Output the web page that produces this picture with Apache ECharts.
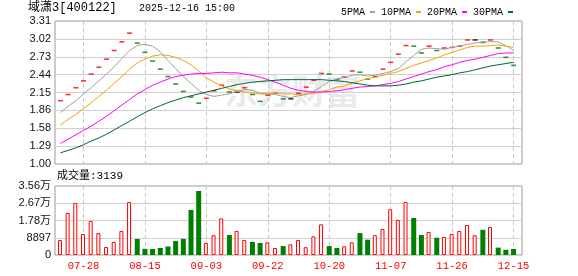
<!DOCTYPE html>
<html><head><meta charset="utf-8">
<script src="https://cdn.jsdelivr.net/npm/echarts@6/dist/echarts.min.js"></script>
<style>html,body{margin:0;padding:0;background:#fff}#c{width:578px;height:276px}</style>
</head><body><div id="c"></div>
<script>
// ---- data ----
const stockName = '域潇3[400122]';
const timeStamp = '2025-12-16 15:00';
const dates = ['07-21','07-23','07-25','07-28','07-30','08-01','08-04','08-06','08-08','08-11',
  '08-13','08-15','08-18','08-20','08-22','08-25','08-27','08-29','09-01','09-03',
  '09-05','09-08','09-10','09-12','09-15','09-17','09-19','09-22','09-24','09-26',
  '09-29','10-10','10-13','10-15','10-17','10-20','10-22','10-24','10-27','10-29',
  '10-31','11-03','11-05','11-07','11-10','11-12','11-14','11-17','11-19','11-21',
  '11-24','11-26','11-28','12-01','12-03','12-05','12-08','12-10','12-12','12-15'];
const prevClose = 1.92;
const price = [2.02,2.12,2.23,2.34,2.45,2.56,2.69,2.83,2.97,3.11,
  2.95,2.80,2.66,2.53,2.41,2.29,2.17,2.08,1.98,2.06,
  2.18,2.27,2.16,2.16,2.23,2.12,2.01,2.11,2.14,2.05,
  2.05,2.14,2.24,2.35,2.46,2.45,2.36,2.40,2.50,2.48,
  2.37,2.41,2.53,2.64,2.77,2.91,2.90,2.79,2.90,2.83,
  2.87,2.88,2.90,3.00,3.00,2.96,3.00,2.87,2.72,2.59];
const ma5 = [1.83,1.93,2.02,2.13,2.23,2.34,2.45,2.57,2.70,2.83,2.91,2.93,2.90,2.81,2.67,2.54,2.41,2.30,2.19,2.12,
  2.09,2.11,2.13,2.17,2.20,2.19,2.14,2.13,2.12,2.09,2.07,2.10,2.12,2.17,2.25,2.33,2.37,2.40,2.43,2.44,
  2.42,2.43,2.46,2.49,2.54,2.65,2.75,2.85,2.87,2.86,2.85,2.88,2.90,2.93,2.95,2.97,2.97,2.97,2.91,2.83];
const ma10 = [1.63,1.72,1.80,1.89,1.99,2.09,2.19,2.30,2.41,2.53,2.63,2.69,2.74,2.76,2.75,2.72,2.67,2.60,2.50,2.39,
  2.32,2.26,2.21,2.18,2.16,2.14,2.13,2.13,2.14,2.13,2.13,2.12,2.13,2.14,2.17,2.20,2.24,2.26,2.30,2.34,
  2.38,2.40,2.43,2.46,2.49,2.54,2.59,2.63,2.67,2.71,2.76,2.80,2.84,2.88,2.90,2.90,2.91,2.92,2.90,2.88];
const ma20 = [1.33,1.40,1.47,1.54,1.61,1.69,1.77,1.86,1.95,2.04,2.13,2.20,2.27,2.32,2.37,2.41,2.43,2.45,2.46,2.46,
  2.47,2.48,2.47,2.47,2.45,2.43,2.40,2.36,2.32,2.27,2.22,2.19,2.17,2.16,2.16,2.17,2.18,2.20,2.22,2.24,
  2.25,2.26,2.28,2.30,2.33,2.37,2.41,2.45,2.49,2.52,2.57,2.60,2.64,2.67,2.69,2.72,2.75,2.78,2.79,2.79];
const ma30 = [1.18,1.22,1.26,1.31,1.37,1.42,1.48,1.55,1.62,1.69,1.76,1.83,1.89,1.94,1.99,2.03,2.07,2.10,2.13,2.16,
  2.19,2.22,2.25,2.28,2.30,2.32,2.33,2.34,2.35,2.36,2.36,2.36,2.36,2.36,2.36,2.35,2.34,2.33,2.31,2.29,
  2.27,2.26,2.26,2.26,2.27,2.29,2.32,2.34,2.37,2.40,2.42,2.44,2.47,2.49,2.52,2.55,2.58,2.60,2.62,2.64];
const volume = [7700,21700,26800,10800,17500,11300,4100,6700,12400,27300,
  8300,3200,3100,3600,4400,7200,8300,23200,33000,6200,
  10200,18900,10300,12400,7700,6700,6200,6500,3600,4600,
  5500,7700,4000,9600,15800,4600,3600,4500,6500,11300,
  7900,10200,13400,23600,18100,27300,19100,10300,11900,8900,
  9300,10800,12400,15500,10200,13000,14400,3800,2700,3139];
const priceTickLabels = ['1.00','1.29','1.58','1.86','2.15','2.44','2.73','3.02','3.31'];
const volTickLabels = ['0','8897','1.78万','2.67万','3.56万'];
const labelIdx = [3,11,19,27,35,43,51,59];

// ---- chart ----
const pMin = 1.00, pStep = 0.2882, vStep = 8897;
const RED = '#ff0000', GREEN = '#008000', FLAT = '#000000';
const dir = price.map((v, i) => {
  const prev = i === 0 ? prevClose : price[i - 1];
  return v > prev ? 1 : (v < prev ? -1 : 0);
});
const priceData = price.map((v, i) => ({
  value: [i, v],
  itemStyle: {color: dir[i] > 0 ? RED : (dir[i] < 0 ? GREEN : FLAT)}
}));
const upVol = [], downVol = [];
volume.forEach((v, i) => { (dir[i] >= 0 ? upVol : downVol).push([i, v]); });
const pair = arr => arr.map((v, i) => [i, v]);

const xMin = -0.71, xMax = 60.1;
function xAxisCfg(grid, showLabel) {
  return {
    type: 'value', gridIndex: grid, min: xMin, max: xMax,
    axisLine: {show: false},
    axisTick: {show: false, customValues: labelIdx},
    axisLabel: {show: showLabel, customValues: labelIdx,
      formatter: v => dates[Math.round(v)] || '',
      color: '#ff0000', fontFamily: 'Liberation Mono', fontSize: 10.5, margin: 6},
    splitLine: {show: true, lineStyle: {color: '#c8c8c8', type: [4, 3], width: 1}}
  };
}
const yLabelStyle = {color: '#111', fontFamily: 'Liberation Sans, Noto Sans CJK SC', fontSize: 11, margin: 4};

const chart = echarts.init(document.getElementById('c'), null, {renderer: 'canvas'});
chart.setOption({
  animation: false,
  backgroundColor: '#fff',
  grid: [
    {left: 55, top: 21, width: 467, height: 143, show: true, borderColor: '#999', borderWidth: 1},
    {left: 55, top: 186, width: 467, height: 69, show: true, borderColor: '#999', borderWidth: 1}
  ],
  legend: {
    data: ['5PMA', '10PMA', '20PMA', '30PMA'],
    left: 336, top: 2, align: 'right', icon: 'rect', itemWidth: 5, itemHeight: 2, itemGap: 6,
    textStyle: {fontFamily: 'Liberation Mono', fontSize: 10, color: '#000'},
    selectedMode: false
  },
  graphic: [
    {type: 'text', left: 28, top: 2, z: 10,
      style: {text: stockName, font: '12px "Liberation Mono", "Noto Sans CJK SC"', fill: '#000'}},
    {type: 'text', left: 139, top: 3, z: 10,
      style: {text: timeStamp, font: '10px "Liberation Mono"', fill: '#000'}},
    {type: 'text', left: 57, top: 171, z: 10,
      style: {text: '成交量:' + volume[volume.length - 1], font: '11px "Liberation Mono", "Noto Sans CJK SC"', fill: '#000'}},
    {type: 'text', left: 224, top: 74, z: 0, silent: true,
      style: {text: '东方财富', font: 'bold 34px "Noto Sans CJK SC"', fill: '#e9e9ee'}}
  ],
  xAxis: [xAxisCfg(0, false), xAxisCfg(1, true)],
  yAxis: [
    {type: 'value', gridIndex: 0, min: pMin, max: pMin + pStep * 8, interval: pStep,
      axisLine: {show: false}, axisTick: {show: false},
      axisLabel: Object.assign({formatter: v => priceTickLabels[Math.round((v - pMin) / pStep)] || ''}, yLabelStyle),
      splitLine: {lineStyle: {color: '#d0d0d0', width: 1}}},
    {type: 'value', gridIndex: 1, min: 0, max: vStep * 4, interval: vStep,
      axisLine: {show: false}, axisTick: {show: false},
      axisLabel: Object.assign({formatter: v => volTickLabels[Math.round(v / vStep)] || ''}, yLabelStyle),
      splitLine: {lineStyle: {color: '#d0d0d0', width: 1}}}
  ],
  series: [
    {name: 'price', type: 'scatter', xAxisIndex: 0, yAxisIndex: 0, symbol: 'rect', symbolSize: [5, 1.6],
      data: priceData, z: 2, silent: true},
    {name: '5PMA', type: 'line', xAxisIndex: 0, yAxisIndex: 0, data: pair(ma5), showSymbol: false,
      lineStyle: {width: 1, color: '#a0a0a0'}, itemStyle: {color: '#a0a0a0'}, z: 3},
    {name: '10PMA', type: 'line', xAxisIndex: 0, yAxisIndex: 0, data: pair(ma10), showSymbol: false,
      lineStyle: {width: 1, color: '#f5a300'}, itemStyle: {color: '#f5a300'}, z: 3},
    {name: '20PMA', type: 'line', xAxisIndex: 0, yAxisIndex: 0, data: pair(ma20), showSymbol: false,
      lineStyle: {width: 1, color: '#ff00ff'}, itemStyle: {color: '#ff00ff'}, z: 3},
    {name: '30PMA', type: 'line', xAxisIndex: 0, yAxisIndex: 0, data: pair(ma30), showSymbol: false,
      lineStyle: {width: 1, color: '#006633'}, itemStyle: {color: '#006633'}, z: 3},
    {name: 'volUp', type: 'bar', xAxisIndex: 1, yAxisIndex: 1, data: upVol, barWidth: 4, barGap: '-100%',
      itemStyle: {color: '#ffffff', borderColor: '#ff0000', borderWidth: 1}, silent: true},
    {name: 'volDown', type: 'bar', xAxisIndex: 1, yAxisIndex: 1, data: downVol, barWidth: 5, barGap: '-100%',
      itemStyle: {color: '#008000'}, silent: true}
  ]
});
</script>
</body></html>
